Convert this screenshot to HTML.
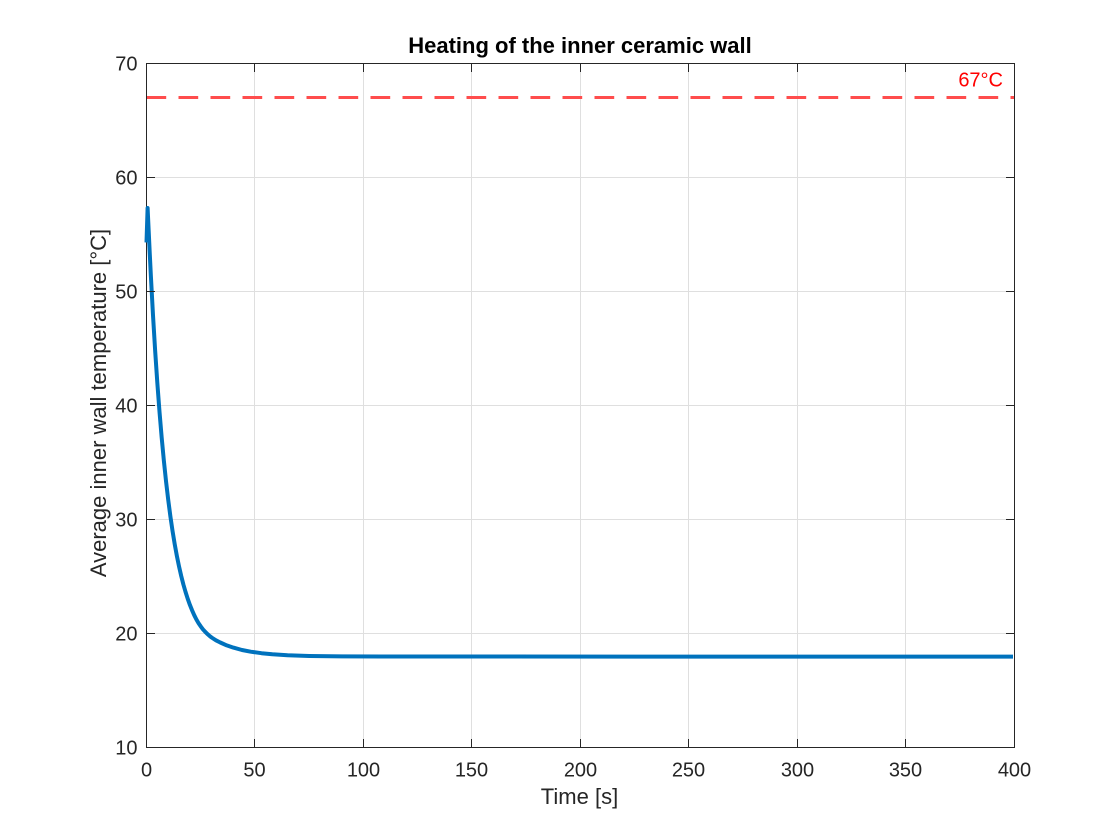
<!DOCTYPE html>
<html>
<head>
<meta charset="utf-8">
<style>
  html,body{margin:0;padding:0;background:#fff;}
  svg{display:block;}
  text{font-family:"Liberation Sans",Arial,Helvetica,sans-serif;}
</style>
</head>
<body>
<svg width="1120" height="840" viewBox="0 0 1120 840" xmlns="http://www.w3.org/2000/svg">
  <rect x="0" y="0" width="1120" height="840" fill="#ffffff"/>

  <!-- grid -->
  <g stroke="#dfdfdf" stroke-width="1" fill="none">
    <line x1="254.5" y1="63.5" x2="254.5" y2="747.5"/>
    <line x1="363.5" y1="63.5" x2="363.5" y2="747.5"/>
    <line x1="471.5" y1="63.5" x2="471.5" y2="747.5"/>
    <line x1="580.5" y1="63.5" x2="580.5" y2="747.5"/>
    <line x1="688.5" y1="63.5" x2="688.5" y2="747.5"/>
    <line x1="797.5" y1="63.5" x2="797.5" y2="747.5"/>
    <line x1="905.5" y1="63.5" x2="905.5" y2="747.5"/>
    <line x1="146.5" y1="633.5" x2="1014.5" y2="633.5"/>
    <line x1="146.5" y1="519.5" x2="1014.5" y2="519.5"/>
    <line x1="146.5" y1="405.5" x2="1014.5" y2="405.5"/>
    <line x1="146.5" y1="291.5" x2="1014.5" y2="291.5"/>
    <line x1="146.5" y1="177.5" x2="1014.5" y2="177.5"/>
  </g>

  <!-- dashed threshold line -->
  <line x1="146.5" y1="97.5" x2="1014.5" y2="97.5" stroke="#ff4d4d" stroke-width="3" stroke-dasharray="19.7 12.3"/>
  <text x="1003" y="86.7" font-size="20" fill="#ff0000" text-anchor="end">67°C</text>

  <!-- axes box -->
  <rect x="146.5" y="63.5" width="868" height="684" fill="none" stroke="#262626" stroke-width="1"/>

  <!-- data curve -->
  <polyline fill="none" stroke="#0072BD" stroke-width="4" stroke-linejoin="round" stroke-linecap="butt"
    points="146.5,242.5 147.6,208 148.67,230.6 149.76,253.6 150.84,275.4 153.01,315.4 155.18,351.2 157.35,383.3 159.52,412.0 161.69,437.7 163.86,460.7 166.03,481.3 168.2,499.7 170.37,516.2 172.54,531.0 174.71,544.2 176.88,556.0 179.05,566.5 181.22,576.0 183.39,584.5 185.56,592.0 187.73,598.8 189.9,604.9 192.07,610.3 194.24,615.2 196.41,619.5 198.58,623.2 200.75,626.4 202.92,629.3 205.09,631.7 207.26,633.9 209.43,635.8 211.6,637.5 215.94,640.3 220.28,642.5 226.79,645.4 233.3,647.6 241.98,650.0 250.66,651.7 261.51,653.2 272.36,654.3 287.55,655.2 309.25,655.95 341.8,656.4 385.2,656.55 1013,656.6"/>

  <!-- ticks -->
  <g stroke="#262626" stroke-width="1">
    <line x1="254.5" y1="747.5" x2="254.5" y2="739"/><line x1="254.5" y1="63.5" x2="254.5" y2="72"/>
    <line x1="363.5" y1="747.5" x2="363.5" y2="739"/><line x1="363.5" y1="63.5" x2="363.5" y2="72"/>
    <line x1="471.5" y1="747.5" x2="471.5" y2="739"/><line x1="471.5" y1="63.5" x2="471.5" y2="72"/>
    <line x1="580.5" y1="747.5" x2="580.5" y2="739"/><line x1="580.5" y1="63.5" x2="580.5" y2="72"/>
    <line x1="688.5" y1="747.5" x2="688.5" y2="739"/><line x1="688.5" y1="63.5" x2="688.5" y2="72"/>
    <line x1="797.5" y1="747.5" x2="797.5" y2="739"/><line x1="797.5" y1="63.5" x2="797.5" y2="72"/>
    <line x1="905.5" y1="747.5" x2="905.5" y2="739"/><line x1="905.5" y1="63.5" x2="905.5" y2="72"/>
    <line x1="146.5" y1="633.5" x2="155" y2="633.5"/><line x1="1014.5" y1="633.5" x2="1006" y2="633.5"/>
    <line x1="146.5" y1="519.5" x2="155" y2="519.5"/><line x1="1014.5" y1="519.5" x2="1006" y2="519.5"/>
    <line x1="146.5" y1="405.5" x2="155" y2="405.5"/><line x1="1014.5" y1="405.5" x2="1006" y2="405.5"/>
    <line x1="146.5" y1="291.5" x2="155" y2="291.5"/><line x1="1014.5" y1="291.5" x2="1006" y2="291.5"/>
    <line x1="146.5" y1="177.5" x2="155" y2="177.5"/><line x1="1014.5" y1="177.5" x2="1006" y2="177.5"/>
  </g>

  <!-- x tick labels -->
  <g font-size="20" fill="#262626" text-anchor="middle">
    <text x="146.5" y="776.5">0</text>
    <text x="254.5" y="776.5">50</text>
    <text x="363.5" y="776.5">100</text>
    <text x="471.5" y="776.5">150</text>
    <text x="580.5" y="776.5">200</text>
    <text x="688.5" y="776.5">250</text>
    <text x="797.5" y="776.5">300</text>
    <text x="905.5" y="776.5">350</text>
    <text x="1014.5" y="776.5">400</text>
  </g>

  <!-- y tick labels -->
  <g font-size="20" fill="#262626" text-anchor="end">
    <text x="137.5" y="754.5">10</text>
    <text x="137.5" y="640.5">20</text>
    <text x="137.5" y="526.5">30</text>
    <text x="137.5" y="412.5">40</text>
    <text x="137.5" y="298.5">50</text>
    <text x="137.5" y="184.5">60</text>
    <text x="137.5" y="70.5">70</text>
  </g>

  <!-- axis labels -->
  <text x="579.5" y="804" font-size="22" fill="#262626" text-anchor="middle">Time [s]</text>
  <text transform="translate(106,403) rotate(-90)" font-size="22" fill="#262626" text-anchor="middle">Average inner wall temperature [°C]</text>

  <!-- title -->
  <text x="580" y="53" font-size="22" font-weight="bold" fill="#000000" text-anchor="middle">Heating of the inner ceramic wall</text>
</svg>
</body>
</html>
